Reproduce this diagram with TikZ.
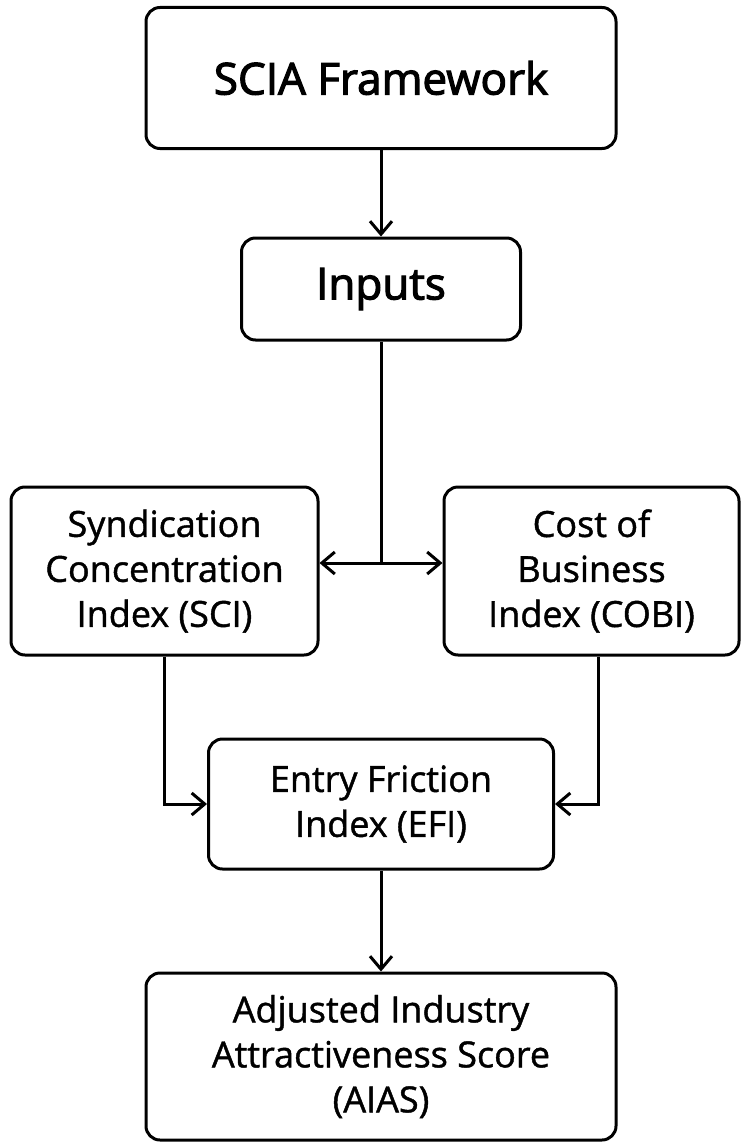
\documentclass[tikz,border=0pt]{standalone}
\usepackage{fontspec}
\setmainfont{Open Sans}[FakeBold=1.2]
\newfontfamily\headfont[FakeBold=2.6]{Open Sans}
\usetikzlibrary{arrows.meta}

\begin{document}
\begin{tikzpicture}[x=0.5pt, y=-0.5pt, ->, >={Straight Barb[length=6.5pt,width=11pt]}, line width=1.5pt, font=\fontsize{18}{22.5}\selectfont]
	\tikzstyle{box}=[draw=black, line width=1.5pt, rounded corners=7pt, align=center, inner sep=0pt, fill=white]
	\useasboundingbox (0,0) rectangle (740,1145);

	\node[box, minimum width=235pt, minimum height=70.5pt, font=\headfont\fontsize{22}{26}\selectfont] (scia) at (381,78) {SCIA Framework};
	\node[box, minimum width=139.5pt, minimum height=51pt, font=\headfont\fontsize{22}{26}\selectfont] (inputs) at (381,289) {Inputs};
	\node[box, minimum width=153.5pt, minimum height=84pt] (sci) at (164.5,571) {Syndication\\Concentration\\Index (SCI)};
	\node[box, minimum width=147.5pt, minimum height=84pt] (cobi) at (591.5,571) {Cost of\\Business\\Index (COBI)};
	\node[box, minimum width=172.5pt, minimum height=65pt] (efi) at (381,804) {Entry Friction\\Index (EFI)};
	\node[box, minimum width=235pt, minimum height=83.5pt] (aias) at (381,1056.5) {Adjusted Industry\\Attractiveness Score\\(AIAS)};
	\coordinate (jn) at (381,563);

	\draw (scia) -- (inputs);
	\draw[-] (inputs) -- (jn);
	\draw (jn) -- (sci.east |- jn);
	\draw (jn) -- (cobi.west |- jn);
	\draw (sci) |- (efi);
	\draw ([xshift=3.25pt]cobi.south) |- (efi);
	\draw (efi) -- (aias);
\end{tikzpicture}
\end{document}
